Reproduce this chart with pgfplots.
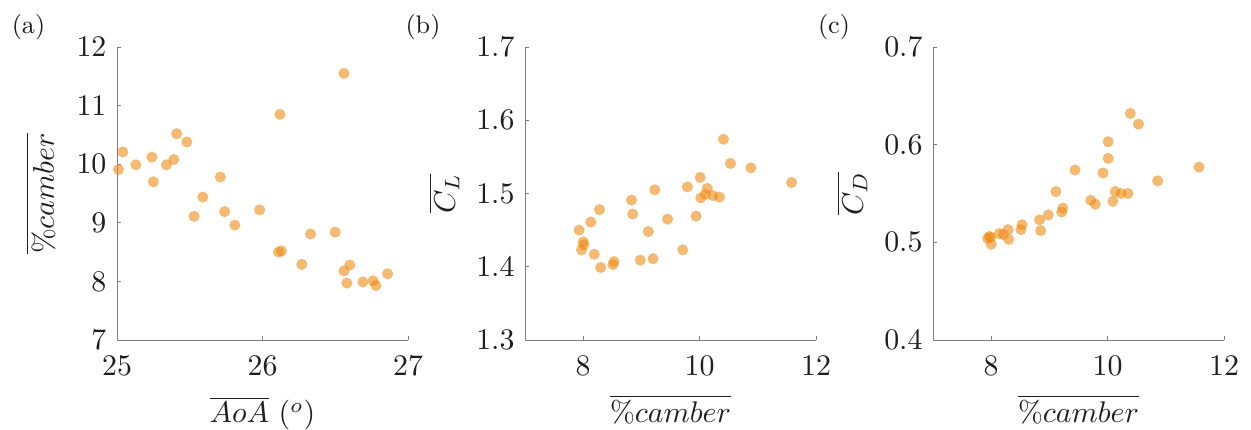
\documentclass[border=0pt]{standalone}
\usepackage{pgfplots}
\pgfplotsset{compat=1.18}

\definecolor{ptcol}{RGB}{237,140,20}
\definecolor{axcol}{RGB}{125,125,125}
\definecolor{txtcol}{RGB}{30,30,30}

\tikzset{panel label/.style={font=\fontsize{8.5}{9}\selectfont, text=txtcol, anchor=base}}

\pgfplotsset{
  panel/.style={
    scale only axis,
    width=97bp, height=97.667bp,
    anchor=south west,
    axis lines=left,
    axis line style={-, axcol, line width=0.25bp},
    tick style={axcol, line width=0.25bp},
    major tick length=1.2bp,
    tick align=inside,
    minor tick num=0,
    clip=false,
    tick label style={font=\fontsize{9.7}{10}\selectfont, text=txtcol},
    xticklabel style={anchor=base, yshift=-12bp},
    every axis x label/.style={at={(axis description cs:0.5,0)}, anchor=base,
      yshift=-27.667bp, font=\fontsize{9.7}{10}\selectfont, text=txtcol},
    every axis y label/.style={at={(axis description cs:0,0.5)}, anchor=center,
      rotate=90, font=\fontsize{9.7}{10}\selectfont, text=txtcol},
  },
  pts/.style={only marks, mark=*, mark size=1.85bp, color=ptcol,
    mark options={fill=ptcol, fill opacity=0.6, draw opacity=0}},
}

\begin{document}
\begin{tikzpicture}
\useasboundingbox (0,0) rectangle (417bp,143.333bp);

% (a) mean camber against mean angle of attack
\begin{axis}[panel, at={(39bp,30bp)},
  xmin=25, xmax=27, ymin=7, ymax=12,
  xtick={25,26,27}, ytick={7,8,9,10,11,12},
  xlabel={$\overline{AoA}$ $(^o)$},
  ylabel={$\overline{\%camber}$},
  ylabel style={yshift=25.5bp}]
\addplot[pts] coordinates {
(25.01,9.91) (25.04,10.21) (25.13,9.99) (25.24,10.12) (25.25,9.70)
(25.34,9.99) (25.39,10.08) (25.41,10.52) (25.48,10.38) (25.53,9.11)
(25.59,9.44) (25.71,9.78) (25.74,9.19) (25.81,8.96) (25.98,9.22)
(26.12,10.85) (26.11,8.50) (26.13,8.52) (26.27,8.29) (26.33,8.81)
(26.50,8.84) (26.56,11.55) (26.56,8.18) (26.60,8.28) (26.58,7.97)
(26.69,7.99) (26.76,8.01) (26.78,7.93) (26.86,8.13)
};
\node[panel label] at (axis description cs:0,1) [xshift=-29.5bp, yshift=4.5bp] {(a)};
\end{axis}

% (b) mean lift coefficient against mean camber
\begin{axis}[panel, at={(175bp,30bp)},
  xmin=7, xmax=12, ymin=1.3, ymax=1.7,
  xtick={8,10,12}, ytick={1.3,1.4,1.5,1.6,1.7},
  yticklabel style={/pgf/number format/.cd, fixed, fixed zerofill, precision=1},
  xlabel={$\overline{\%camber}$},
  ylabel={$\overline{C_L}$},
  ylabel style={yshift=27bp}]
\addplot[pts] coordinates {
(7.93,1.450) (8.00,1.434) (8.01,1.430) (7.97,1.423) (8.13,1.461)
(8.19,1.417) (8.28,1.478) (8.30,1.399) (8.51,1.403) (8.53,1.407)
(8.83,1.491) (8.85,1.472) (8.98,1.409) (9.12,1.448) (9.20,1.411)
(9.23,1.505) (9.45,1.465) (9.71,1.423) (9.79,1.509) (9.94,1.469)
(10.01,1.522) (10.02,1.494) (10.10,1.499) (10.13,1.507) (10.23,1.497)
(10.34,1.495) (10.41,1.574) (10.53,1.541) (10.88,1.535) (11.58,1.515)
};
\node[panel label] at (axis description cs:0,1) [xshift=-34bp, yshift=4.5bp] {(b)};
\end{axis}

% (c) mean drag coefficient against mean camber
\begin{axis}[panel, at={(311bp,30bp)},
  xmin=7, xmax=12, ymin=0.4, ymax=0.7,
  xtick={8,10,12}, ytick={0.4,0.5,0.6,0.7},
  yticklabel style={/pgf/number format/.cd, fixed, fixed zerofill, precision=1},
  xlabel={$\overline{\%camber}$},
  ylabel={$\overline{C_D}$},
  ylabel style={yshift=27bp}]
\addplot[pts] coordinates {
(7.94,0.504) (7.99,0.505) (7.97,0.506) (8.00,0.498) (8.14,0.509)
(8.21,0.508) (8.29,0.513) (8.30,0.503) (8.51,0.513) (8.53,0.518)
(8.83,0.523) (8.85,0.512) (8.98,0.528) (9.11,0.552) (9.21,0.531)
(9.23,0.535) (9.44,0.574) (9.71,0.543) (9.79,0.539) (9.92,0.571)
(10.01,0.603) (10.01,0.586) (10.09,0.542) (10.13,0.552) (10.23,0.550)
(10.35,0.550) (10.39,0.632) (10.53,0.621) (10.86,0.563) (11.57,0.577)
};
\node[panel label] at (axis description cs:0,1) [xshift=-33bp, yshift=4.5bp] {(c)};
\end{axis}
\end{tikzpicture}
\end{document}
